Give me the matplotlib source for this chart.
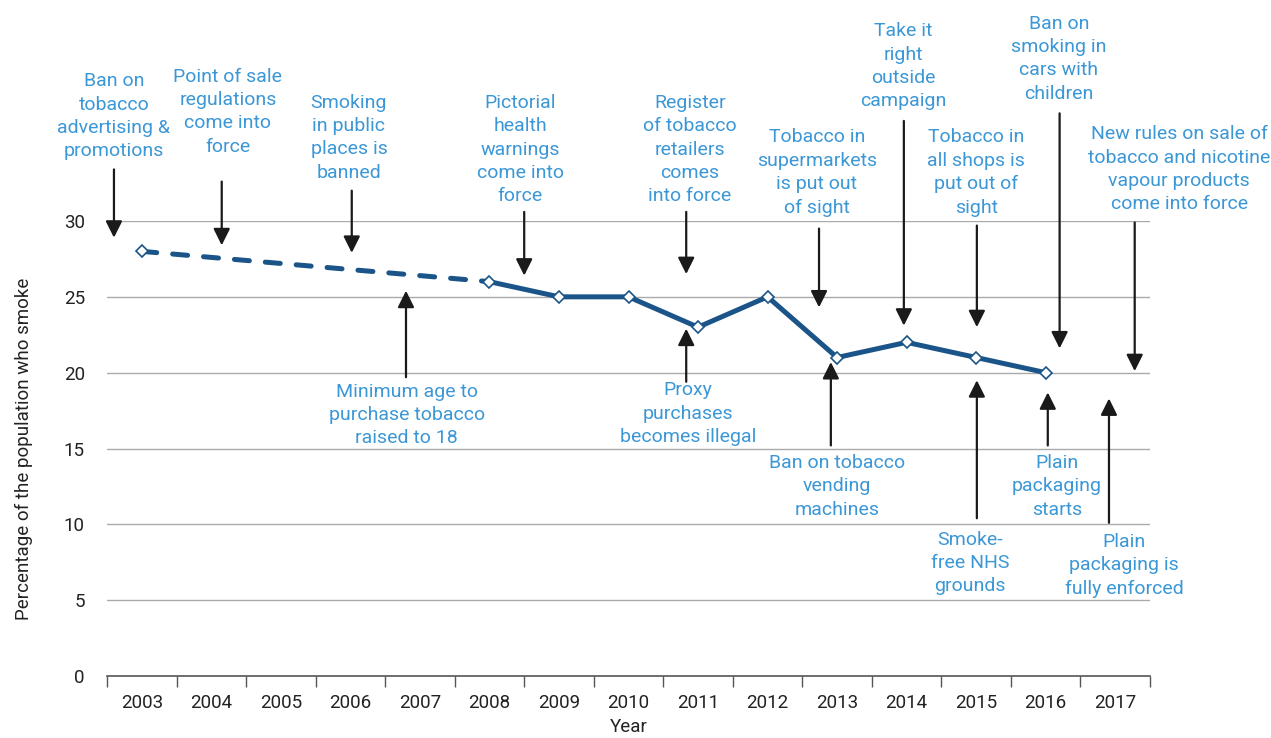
import matplotlib.pyplot as plt

plt.rcParams['font.family'] = ['Roboto', 'DejaVu Sans']

# smoking prevalence, % of population
years = list(range(2003, 2018))
survey_years = [2003, 2008, 2009, 2010, 2011, 2012, 2013, 2014, 2015, 2016]
smokers = [28, 26, 25, 25, 23, 25, 21, 22, 21, 20]

line_col = '#1b5488'
text_col = '#3b97d6'

# policy events: (label, text x, text y, arrow x, arrow tail y, arrow tip y)
events_above = [
    ("Ban on\ntobacco\nadvertising &\npromotions", 2002.60, 36.9, 2002.60, 33.4, 28.9),
    ("Point of sale\nregulations\ncome into\nforce", 2004.24, 37.2, 2004.15, 32.6, 28.4),
    ("Smoking\nin public\nplaces is\nbanned", 2005.98, 35.5, 2006.02, 32.0, 27.9),
    ("Pictorial\nhealth\nwarnings\ncome into\nforce", 2008.44, 34.7, 2008.50, 30.6, 26.4),
    ("Register\nof tobacco\nretailers\ncomes\ninto force", 2010.88, 34.7, 2010.83, 30.6, 26.5),
    ("Tobacco in\nsupermarkets\nis put out\nof sight", 2012.71, 33.2, 2012.74, 29.5, 24.3),
    ("Take it\nright\noutside\ncampaign", 2013.95, 40.2, 2013.96, 36.6, 23.1),
    ("Tobacco in\nall shops is\nput out of\nsight", 2015.00, 33.2, 2015.01, 29.7, 23.0),
    ("Ban on\nsmoking in\ncars with\nchildren", 2016.19, 40.7, 2016.20, 37.1, 21.6),
    ("New rules on sale of\ntobacco and nicotine\nvapour products\ncome into force", 2017.92, 33.4, 2017.28, 29.9, 20.1),
]
events_below = [
    ("Minimum age to\npurchase tobacco\nraised to 18", 2006.81, 17.2, 2006.80, 19.7, 25.4),
    ("Proxy\npurchases\nbecomes illegal", 2010.86, 17.3, 2010.83, 19.4, 22.9),
    ("Ban on tobacco\nvending\nmachines", 2013.00, 12.5, 2012.91, 15.2, 20.7),
    ("Smoke-\nfree NHS\ngrounds", 2014.91, 7.45, 2015.01, 10.4, 19.5),
    ("Plain\npackaging\nstarts", 2016.16, 12.5, 2016.03, 15.2, 18.7),
    ("Plain\npackaging is\nfully enforced", 2017.13, 7.3, 2016.91, 10.1, 18.3),
]

fig = plt.figure(figsize=(12.71, 7.38), dpi=100)
ax = fig.add_axes([107 / 1271, 62 / 738, 1043 / 1271, 455 / 738])

ax.set_xlim(2002.5, 2017.5)
ax.set_ylim(0, 30)

for y in range(5, 31, 5):
    ax.axhline(y, color='#aaaaaa', lw=1, zorder=0)

# dashed stretch before 2008, solid afterwards
ax.plot(survey_years[:2], smokers[:2], color=line_col, lw=3.6,
        dashes=(3.0, 3.2), dash_capstyle='round', zorder=2)
ax.plot(survey_years[1:], smokers[1:], color=line_col, lw=3.6,
        solid_capstyle='round', zorder=2)
ax.plot(survey_years, smokers, ls='none', marker='D', ms=6.5,
        mfc='white', mec=line_col, mew=1.2, zorder=3)

arrow = dict(arrowstyle='-|>,head_length=1.0,head_width=0.5', color='#1a1a1a',
             lw=1.6, mutation_scale=10, shrinkA=0, shrinkB=0)

for label, tx, ty, axx, tail, tip in events_above + events_below:
    ax.annotate('', xy=(axx, tip), xytext=(axx, tail), arrowprops=arrow,
                annotation_clip=False, zorder=4)
    ax.text(tx, ty, label, ha='center', va='center', color=text_col,
            fontsize=14, linespacing=1.38, clip_on=False)

# year labels sit between boundary ticks
ax.set_xticks([y - 0.5 for y in years] + [years[-1] + 0.5])
ax.set_xticklabels([])
ax.set_xticks(years, minor=True)
ax.set_xticklabels([str(y) for y in years], minor=True)
ax.tick_params(axis='x', which='major', length=8, color='#555555', width=1)
ax.tick_params(axis='x', which='minor', length=0, pad=13, labelsize=13.5,
               labelcolor='#222222')

ax.set_yticks(range(0, 31, 5))
ax.tick_params(axis='y', length=0, pad=16, labelsize=13.5, labelcolor='#222222')

for side in ['top', 'right', 'left']:
    ax.spines[side].set_visible(False)
ax.spines['bottom'].set_color('#555555')
ax.spines['bottom'].set_linewidth(1.2)

ax.set_xlabel('Year', fontsize=13.5, color='#222222', labelpad=4)
ax.set_ylabel('Percentage of the population who smoke', fontsize=13.5,
              color='#222222', labelpad=22)

fig.savefig('out.png', dpi=100)
